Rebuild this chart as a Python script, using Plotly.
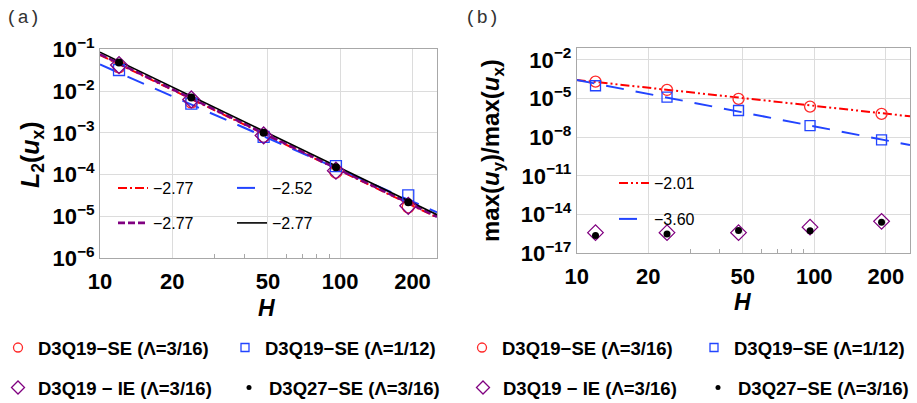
import plotly.graph_objects as go
import numpy as np

# ---------------- data ----------------
H = [12, 24, 48, 96, 192]

# panel (a): L2(u_x)
a_se316 = [0.038, 5.5e-3, 8.3e-4, 1.15e-4, 1.7e-5]
a_se112 = [0.032, 5.0e-3, 8.0e-4, 1.6e-4, 3.2e-5]
a_ie316 = [0.042, 6.3e-3, 8.7e-4, 1.25e-4, 1.8e-5]
a_q27 = [0.048, 7.0e-3, 1.01e-3, 1.5e-4, 2.2e-5]

# panel (b): max(u_y)/max(u_x)
b_se316 = [2.1e-4, 4.7e-5, 9.5e-6, 2.4e-6, 6.5e-7]
b_se112 = [1.0e-4, 1.3e-5, 1.2e-6, 8e-8, 6.3e-9]
b_ie316 = [4e-16, 4e-16, 4e-16, 1.07e-15, 3e-15]
b_q27 = [2.4e-16, 3.1e-16, 5.9e-16, 5.5e-16, 2.6e-15]

# fitted power laws: log10(y) = intercept + slope*log10(H)
fit_a_slopes = [-2.77, -2.52, -2.77, -2.77]
fit_a_intercepts = [1.633, 1.156, 1.65, 1.70]
fit_b_slopes = [-2.01, -3.60]
fit_b_intercepts = [-1.54, 0.05]

series_names = ["D3Q19−SE (Λ=3/16)", "D3Q19−SE (Λ=1/12)",
                "D3Q19 − IE (Λ=3/16)", "D3Q27−SE (Λ=3/16)"]

x_ticks = [10, 20, 50, 100, 200]
ya_ticks = [-6, -5, -4, -3, -2, -1]
yb_ticks = [-17, -14, -11, -8, -5, -2]
x_range_log = [1.0, 2.403]

# ---------------- styling ----------------
W, Hh = 917, 403
RED = "#ff2a2a"
BLUE = "#2244ff"
PURPLE = "#800080"
BLACK = "#000000"
FONT = "Liberation Sans"

def px_x(p):
    return p / W

def px_y(p):
    return 1 - p / Hh

fig = go.Figure()
H_line = [10 ** x_range_log[0], 10 ** x_range_log[1]]

def fit_line(slope, icpt):
    return [10 ** (icpt + slope * np.log10(h)) for h in H_line]

def fmt(s):
    return f"{s:.2f}".replace("-", "−")

# ---- panel (a) fits ----
fit_styles_a = [
    dict(color="red", width=2, dash="9px,3px,2px,3px"),
    dict(color=BLUE, width=2, dash="18px,12px"),
    dict(color=PURPLE, width=2.6, dash="7px,3px"),
    dict(color=BLACK, width=1.6, dash="solid"),
]
fit_legends_a = ["legend9", "legend10", "legend11", "legend12"]
for s, b, st, lg in zip(fit_a_slopes, fit_a_intercepts, fit_styles_a, fit_legends_a):
    fig.add_trace(go.Scatter(x=H_line, y=fit_line(s, b), mode="lines", line=st,
                             name=fmt(s), legend=lg, xaxis="x", yaxis="y"))

# ---- markers ----
marker_styles = [
    dict(symbol="circle-open", color=RED, line=dict(width=1.3, color=RED)),
    dict(symbol="square-open", color=BLUE, line=dict(width=1.3, color=BLUE)),
    dict(symbol="diamond-open", color=PURPLE, line=dict(width=1.3, color=PURPLE)),
    dict(symbol="circle", color=BLACK),
]
sizes_a = [12, 11, 13, 8]
sizes_b = [11, 10, 12, 7]
legend_sizes = [9, 8, 10, 5]

for vals, st, sz in zip([a_se316, a_se112, a_ie316, a_q27], marker_styles, sizes_a):
    fig.add_trace(go.Scatter(x=H, y=vals, mode="markers", marker=dict(size=sz, **st),
                             showlegend=False, xaxis="x", yaxis="y"))

# ---- panel (b) fits ----
fit_styles_b = [
    dict(color="red", width=2, dash="9px,3px,2px,3px,2px,3px"),
    dict(color=BLUE, width=2, dash="18px,12px"),
]
fit_legends_b = ["legend13", "legend14"]
for s, b, st, lg in zip(fit_b_slopes, fit_b_intercepts, fit_styles_b, fit_legends_b):
    fig.add_trace(go.Scatter(x=H_line, y=fit_line(s, b), mode="lines", line=st,
                             name=fmt(s), legend=lg, xaxis="x2", yaxis="y2"))

for vals, st, sz in zip([b_se316, b_se112, b_ie316, b_q27], marker_styles, sizes_b):
    fig.add_trace(go.Scatter(x=H, y=vals, mode="markers", marker=dict(size=sz, **st),
                             showlegend=False, xaxis="x2", yaxis="y2"))

# legend-only entries (no marks drawn), one per legend box
bottom_legends = [["legend", "legend2", "legend3", "legend4"],
                  ["legend5", "legend6", "legend7", "legend8"]]
for panel, (xa, ya) in enumerate([("x", "y"), ("x2", "y2")]):
    for nm, st, sz, lg in zip(series_names, marker_styles, legend_sizes, bottom_legends[panel]):
        fig.add_trace(go.Scatter(x=[None], y=[None], mode="markers",
                                 marker=dict(size=sz, **st), name=nm, legend=lg,
                                 xaxis=xa, yaxis=ya))

# ---------------- axes ----------------
def sup(e):
    return "10<sup>" + str(e).replace("-", "−") + "</sup>"

common_x = dict(type="log", range=x_range_log, showgrid=True, gridcolor="#dcdcdc",
                gridwidth=1, showline=True, linecolor="#a8a8a8", linewidth=1, mirror=True,
                tickvals=x_ticks, ticktext=[str(v) for v in x_ticks], ticks="",
                ticklabelstandoff=3,
                tickfont=dict(family=FONT, size=22, color="black", weight="bold"),
                minor=dict(ticks="inside", ticklen=4, tickcolor="#a8a8a8",
                           tickvals=[30, 40, 60, 70, 80, 90], showgrid=False),
                zeroline=False, automargin=False)
common_y = dict(type="log", showgrid=True, gridcolor="#dcdcdc", gridwidth=1,
                showline=True, linecolor="#a8a8a8", linewidth=1, mirror=True, ticks="",
                tickfont=dict(family=FONT, size=22, color="black", weight="bold"),
                zeroline=False, automargin=False)

fig.update_layout(
    xaxis=dict(domain=[px_x(100), px_x(437)], anchor="y", **common_x),
    yaxis=dict(domain=[px_y(258.3), px_y(49.3)], anchor="x", range=[-6, -1],
               tickvals=[10 ** e for e in ya_ticks], ticktext=[sup(e) for e in ya_ticks],
               **common_y),
    xaxis2=dict(domain=[px_x(576.7), px_x(910)], anchor="y2", **common_x),
    yaxis2=dict(domain=[px_y(253.3), px_y(47.7)], anchor="x2", range=[-17, -1.05],
                tickvals=[10 ** e for e in yb_ticks], ticktext=[sup(e) for e in yb_ticks],
                **common_y),
)

# ---------------- legends ----------------
leg_font = dict(family=FONT, size=18.5, color="black", weight="bold")
fit_font = dict(family=FONT, size=16, color="black")

def one_legend(x, y, font):
    return dict(orientation="h", x=px_x(x), y=px_y(y), xanchor="left", yanchor="middle",
                bgcolor="rgba(0,0,0,0)", font=font, itemclick=False, itemdoubleclick=False)

legend_pos = {
    "legend": (-2, 348), "legend2": (225, 348), "legend3": (-2, 388), "legend4": (229, 388),
    "legend5": (462, 348), "legend6": (694, 348), "legend7": (463, 388), "legend8": (698, 388),
}
fit_pos = {
    "legend9": (113, 188), "legend10": (232, 188), "legend11": (113, 223), "legend12": (232, 223),
    "legend13": (614, 183), "legend14": (614, 219),
}
lay = {}
for k, (x, y) in legend_pos.items():
    lay[k] = one_legend(x, y, leg_font)
for k, (x, y) in fit_pos.items():
    lay[k] = one_legend(x, y, fit_font)
fig.update_layout(**lay)

# ---------------- text ----------------
ann = [
    dict(text="(a)", x=px_x(4), y=px_y(18), xanchor="left", yanchor="middle",
         font=dict(family="Liberation Mono", size=19, color="#333")),
    dict(text="(b)", x=px_x(463), y=px_y(18), xanchor="left", yanchor="middle",
         font=dict(family="Liberation Mono", size=19, color="#333")),
    dict(text="<b><i>L</i><sub>2</sub>(<i>u</i><sub>x</sub>)</b>", x=px_x(32), y=px_y(155),
         textangle=-90, xanchor="center", yanchor="middle",
         font=dict(family=FONT, size=25, color="black")),
    dict(text="<b>max(<i>u</i><sub>y</sub>)/max(<i>u</i><sub>x</sub>)</b>", x=px_x(493),
         y=px_y(150), textangle=-90, xanchor="center", yanchor="middle",
         font=dict(family=FONT, size=24, color="black")),
    dict(text="<b><i>H</i></b>", x=px_x(266), y=px_y(308), xanchor="center", yanchor="middle",
         font=dict(family=FONT, size=23, color="black")),
    dict(text="<b><i>H</i></b>", x=px_x(742), y=px_y(302), xanchor="center", yanchor="middle",
         font=dict(family=FONT, size=23, color="black")),
]
for a in ann:
    a.update(xref="paper", yref="paper", showarrow=False)

fig.update_layout(
    annotations=ann,
    width=W, height=Hh,
    margin=dict(l=0, r=0, t=0, b=0, autoexpand=False),
    paper_bgcolor="white", plot_bgcolor="white",
    font=dict(family=FONT),
)

fig.write_html("out.html")
